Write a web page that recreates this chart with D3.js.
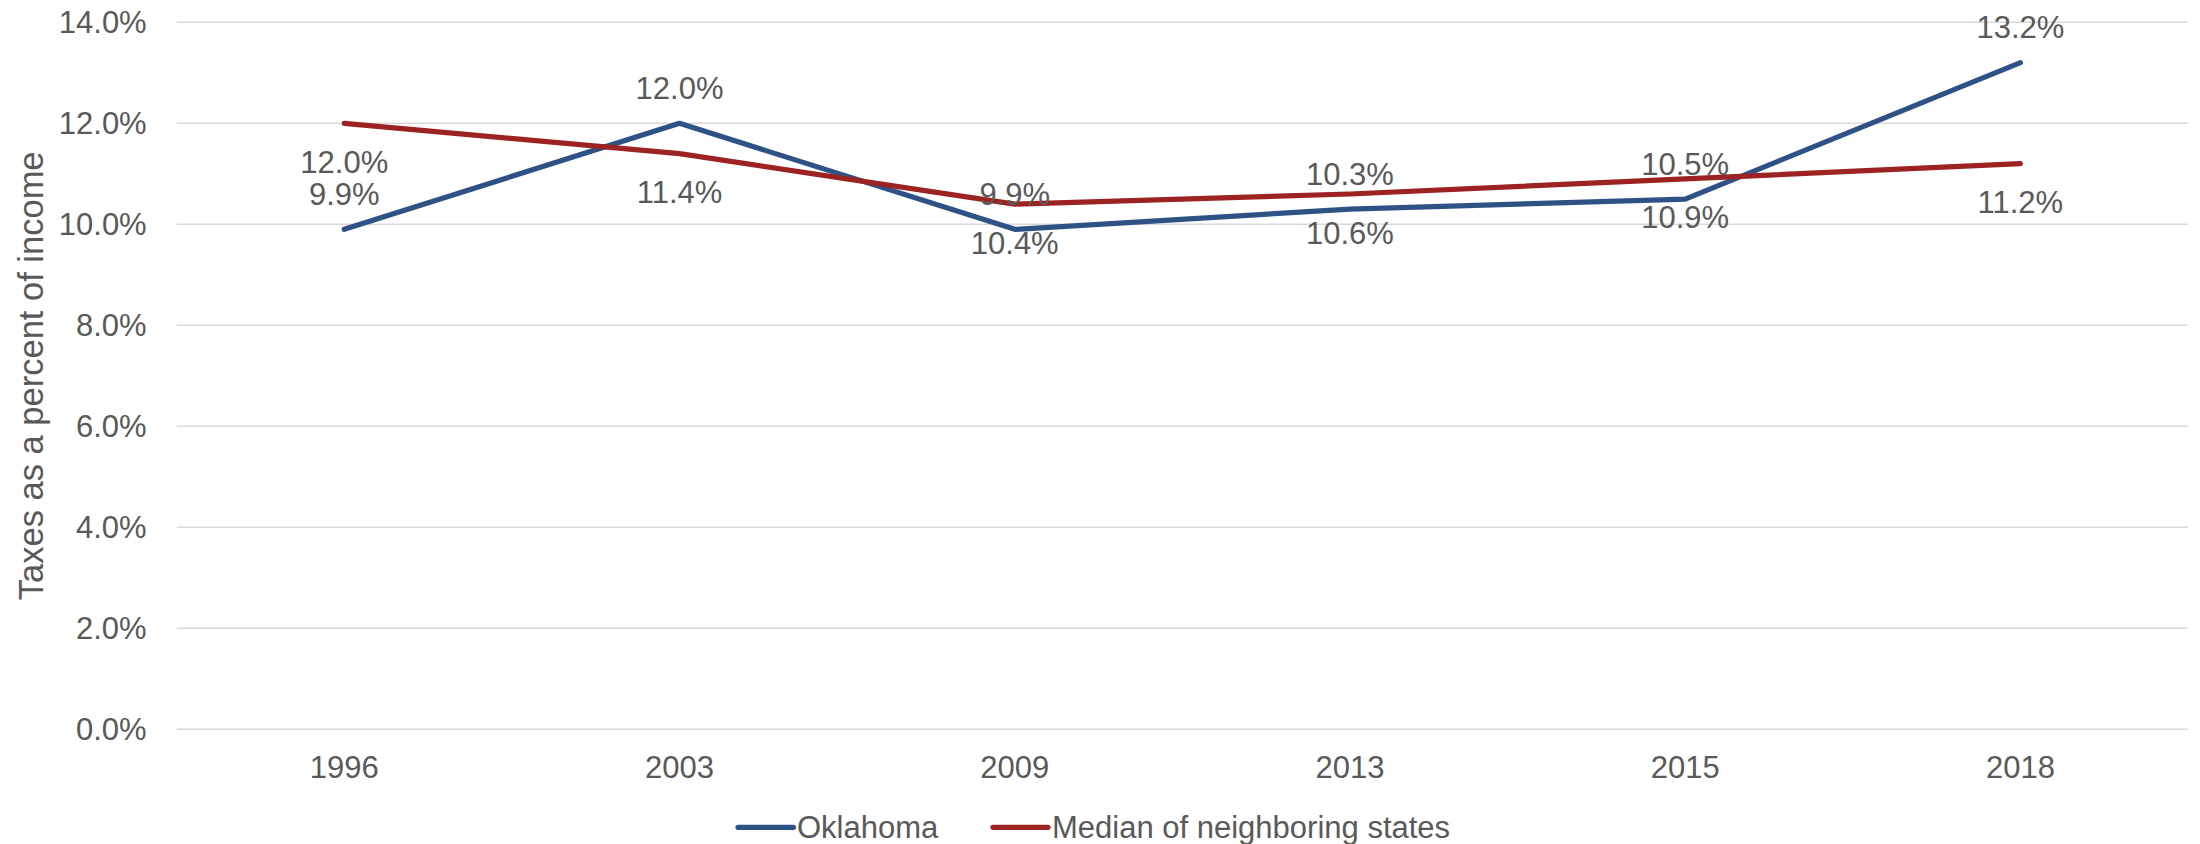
<!DOCTYPE html>
<html>
<head>
<meta charset="utf-8">
<script src="https://cdn.jsdelivr.net/npm/d3@7"></script>
<style>
  html, body { margin: 0; padding: 0; background: #ffffff; }
  svg { display: block; }
  text { font-family: "Liberation Sans", Arial, sans-serif; fill: #595959; }
</style>
</head>
<body>
<svg id="chart" width="2200" height="844"></svg>
<script>
const years = ["1996", "2003", "2009", "2013", "2015", "2018"];
const oklahoma = [9.9, 12.0, 9.9, 10.3, 10.5, 13.2];
const neighbors = [12.0, 11.4, 10.4, 10.6, 10.9, 11.2];
const yTicks = [0, 2, 4, 6, 8, 10, 12, 14];
const seriesNames = ["Oklahoma", "Median of neighboring states"];
const seriesColors = ["#2F5286", "#9C2321"];
const yTitle = "Taxes as a percent of income";

(function () {
const svg = d3.select("#chart");
const pLeft = 176.7, pRight = 2188, pTop = 22.3, pBottom = 729.3;

const x = d3.scalePoint().domain(years).range([pLeft, pRight]).padding(0.5);
const y = d3.scaleLinear().domain([0, 14]).range([pBottom, pTop]);

// gridlines
svg.append("g").selectAll("line").data(yTicks).join("line")
  .attr("x1", pLeft).attr("x2", pRight)
  .attr("y1", d => y(d)).attr("y2", d => y(d))
  .attr("stroke", "#D9D9D9").attr("stroke-width", 1.4);

// y tick labels
svg.append("g").selectAll("text").data(yTicks).join("text")
  .attr("x", 146.7).attr("y", d => y(d) + 11)
  .attr("text-anchor", "end").attr("font-size", 31)
  .text(d => d.toFixed(1) + "%");

// x labels
svg.append("g").selectAll("text").data(years).join("text")
  .attr("x", d => x(d)).attr("y", 777.5)
  .attr("text-anchor", "middle").attr("font-size", 31)
  .text(d => d);

// y title
svg.append("text")
  .attr("transform", `translate(43,${(pTop + pBottom) / 2}) rotate(-90)`)
  .attr("text-anchor", "middle").attr("font-size", 34.5)
  .text(yTitle);

const line = d3.line().x((d, i) => x(years[i])).y(d => y(d));
const series = [oklahoma, neighbors];

series.forEach((vals, si) => {
  svg.append("path").datum(vals)
    .attr("d", line)
    .attr("fill", "none")
    .attr("stroke", seriesColors[si])
    .attr("stroke-width", 5.2)
    .attr("stroke-linejoin", "round")
    .attr("stroke-linecap", "round");
});

// data labels
const offsets = [-24.5, 49.5];
series.forEach((vals, si) => {
  svg.append("g").selectAll("text").data(vals).join("text")
    .attr("x", (d, i) => x(years[i]))
    .attr("y", d => y(d) + offsets[si])
    .attr("text-anchor", "middle").attr("font-size", 31)
    .text(d => d.toFixed(1) + "%");
});

// legend
const legendItems = [
  { name: seriesNames[0], color: seriesColors[0], x1: 738, x2: 793.5, tx: 797 },
  { name: seriesNames[1], color: seriesColors[1], x1: 993, x2: 1048, tx: 1052 }
];
const lg = svg.append("g");
legendItems.forEach(it => {
  lg.append("line").attr("x1", it.x1).attr("x2", it.x2)
    .attr("y1", 827.3).attr("y2", 827.3)
    .attr("stroke", it.color).attr("stroke-width", 5.2).attr("stroke-linecap", "round");
  lg.append("text").attr("x", it.tx).attr("y", 837.5)
    .attr("font-size", 31).text(it.name);
});
})();
</script>
</body>
</html>
